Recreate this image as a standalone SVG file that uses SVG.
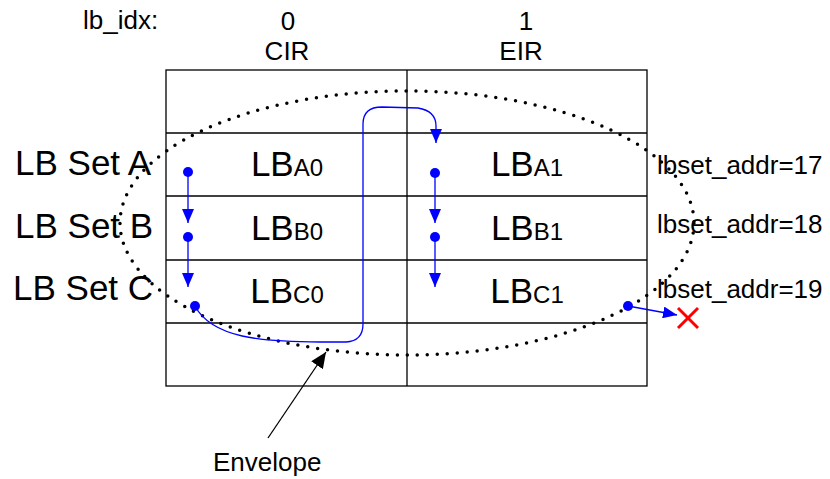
<svg xmlns="http://www.w3.org/2000/svg" width="830" height="479" viewBox="0 0 830 479">
<style>
text{font-family:"Liberation Sans",Arial,sans-serif;fill:#000}
.s{font-size:26px}
.set{font-size:35px}
.lb{font-size:35px;text-anchor:middle}
.sub{font-size:24px}
.c{text-anchor:middle}
.grid{stroke:#000;stroke-width:1.3;fill:none}
.blue{stroke:#0000ff;stroke-width:1.3;fill:none}
.dot{fill:#0000ff}
</style>
<defs>
<marker id="ab" viewBox="0 0 14 12" refX="14" refY="6" markerWidth="14" markerHeight="12" markerUnits="userSpaceOnUse" orient="auto">
<path d="M0,0 L14,6 L0,12 Z" fill="#0000ff"/>
</marker>
<marker id="ak" viewBox="0 0 16 14" refX="16" refY="7" markerWidth="16" markerHeight="14" markerUnits="userSpaceOnUse" orient="auto">
<path d="M0,0 L16,7 L0,14 Z" fill="#000"/>
</marker>
</defs>
<g id="headers">
<text class="s" x="83" y="29">lb_idx:</text>
<text class="s c" x="288" y="30">0</text>
<text class="s c" x="526" y="30">1</text>
<text class="s c" x="287" y="60">CIR</text>
<text class="s c" x="521" y="60">EIR</text>
</g>
<g id="table">
<rect class="grid" x="166" y="70" width="481" height="316"/>
<line class="grid" x1="407" y1="70" x2="407" y2="386"/>
<line class="grid" x1="166" y1="133" x2="647" y2="133"/>
<line class="grid" x1="166" y1="196" x2="647" y2="196"/>
<line class="grid" x1="166" y1="260" x2="647" y2="260"/>
<line class="grid" x1="166" y1="323" x2="647" y2="323"/>
</g>
<g id="cells">
<text class="lb" x="287" y="176">LB<tspan class="sub">A0</tspan></text>
<text class="lb" x="527" y="176">LB<tspan class="sub">A1</tspan></text>
<text class="lb" x="287" y="240">LB<tspan class="sub">B0</tspan></text>
<text class="lb" x="527" y="240">LB<tspan class="sub">B1</tspan></text>
<text class="lb" x="287" y="303">LB<tspan class="sub">C0</tspan></text>
<text class="lb" x="527" y="303">LB<tspan class="sub">C1</tspan></text>
</g>
<g id="set-labels">
<text class="set" x="15" y="175">LB Set A</text>
<text class="set" x="15" y="238">LB Set B</text>
<text class="set" x="13" y="300">LB Set C</text>
</g>
<g id="addr-labels">
<text class="s" x="657" y="174">lbset_addr=17</text>
<text class="s" x="657" y="233">lbset_addr=18</text>
<text class="s" x="657" y="298">lbset_addr=19</text>
</g>
<g id="envelope">
<ellipse cx="407" cy="223" rx="287" ry="132" fill="none" stroke="#000" stroke-width="3.5" stroke-linecap="round" stroke-dasharray="0 10"/>
<text class="s" x="213" y="471">Envelope</text>
</g>
<g id="connectors">
<line class="blue" x1="188" y1="172" x2="188" y2="223" marker-end="url(#ab)"/>
<line class="blue" x1="188" y1="237" x2="188" y2="287" marker-end="url(#ab)"/>
<line class="blue" x1="435" y1="173" x2="435" y2="223" marker-end="url(#ab)"/>
<line class="blue" x1="435" y1="237" x2="435" y2="287" marker-end="url(#ab)"/>
<path class="blue" d="M195,306 C212,338 262,342 320,342 L346,342 Q363,341 363,324 L363,124 Q363,107 382,107 L418,108 Q436,111 436,126 L436,143" marker-end="url(#ab)"/>
<line class="blue" x1="628" y1="306" x2="677" y2="315" marker-end="url(#ab)"/>
<line x1="268" y1="438" x2="326" y2="352" stroke="#000" stroke-width="1.3" marker-end="url(#ak)"/>
</g>
<g id="points">
<circle class="dot" cx="188" cy="172" r="5"/>
<circle class="dot" cx="188" cy="237" r="5"/>
<circle class="dot" cx="195" cy="306" r="5"/>
<circle class="dot" cx="435" cy="173" r="5"/>
<circle class="dot" cx="435" cy="237" r="5"/>
<circle class="dot" cx="628" cy="306" r="5"/>
</g>
<g id="reject" stroke="#ff0000" stroke-width="3" fill="none">
<line x1="678" y1="308" x2="698" y2="328"/>
<line x1="698" y1="308" x2="678" y2="328"/>
</g>
</svg>
